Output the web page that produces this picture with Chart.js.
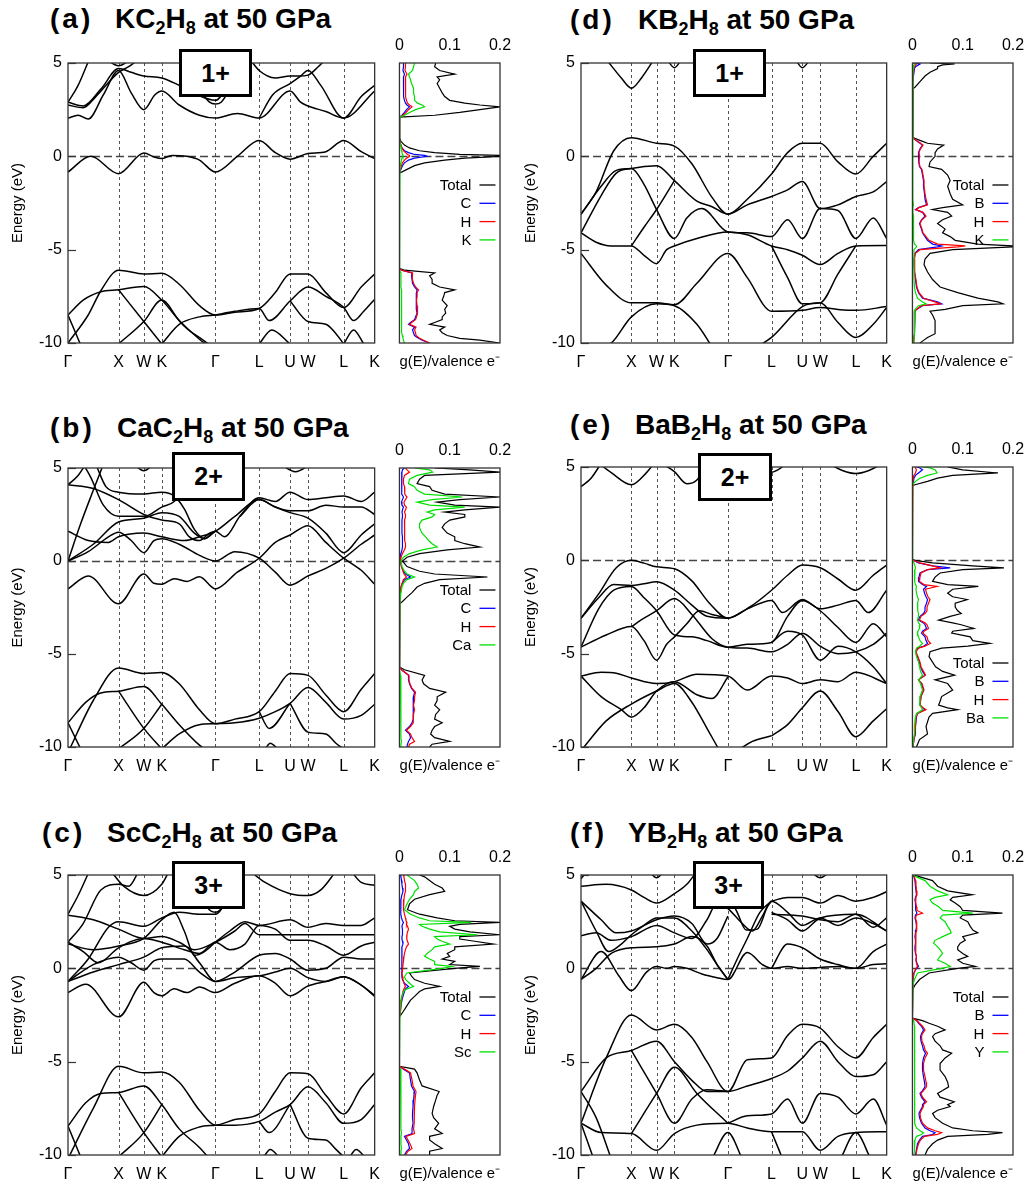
<!DOCTYPE html>
<html>
<head>
<meta charset="utf-8">
<script src="https://cdn.jsdelivr.net/npm/chart.js@4.4.0/dist/chart.umd.min.js"></script>
<style>
body{margin:0;background:#fff;width:1031px;height:1187px;position:relative;overflow:hidden;font-family:"Liberation Sans",Arial,sans-serif}
canvas{position:absolute}
.tag,.ttl{position:absolute;font-weight:bold;font-size:28px;line-height:27px;white-space:nowrap;color:#000}
.tag{letter-spacing:3px}
.ttl sub{font-size:18px;line-height:0;vertical-align:-6px}
.box{position:absolute;border:3px solid #000;background:#fff;box-sizing:border-box;display:flex;align-items:center;justify-content:center;font-weight:bold;font-size:25px;z-index:5}
</style>
</head>
<body>
<div class="tag" style="left:50px;top:5px">(a)</div><div class="ttl" style="left:115px;top:5px">KC<sub>2</sub>H<sub>8</sub> at 50 GPa</div>
<div class="tag" style="left:50px;top:414px">(b)</div><div class="ttl" style="left:117px;top:414px">CaC<sub>2</sub>H<sub>8</sub> at 50 GPa</div>
<div class="tag" style="left:42px;top:819px">(c)</div><div class="ttl" style="left:107px;top:819px">ScC<sub>2</sub>H<sub>8</sub> at 50 GPa</div>
<div class="tag" style="left:570px;top:6px">(d)</div><div class="ttl" style="left:638px;top:6px">KB<sub>2</sub>H<sub>8</sub> at 50 GPa</div>
<div class="tag" style="left:570px;top:411px">(e)</div><div class="ttl" style="left:635px;top:411px">BaB<sub>2</sub>H<sub>8</sub> at 50 GPa</div>
<div class="tag" style="left:570px;top:819px">(f)</div><div class="ttl" style="left:628px;top:819px">YB<sub>2</sub>H<sub>8</sub> at 50 GPa</div>
<div class="box" style="left:179px;top:49px;width:73px;height:48px">1+</div>
<div class="box" style="left:172px;top:452px;width:73px;height:49px">2+</div>
<div class="box" style="left:172px;top:861px;width:73px;height:48px">3+</div>
<div class="box" style="left:693px;top:49px;width:73px;height:48px">1+</div>
<div class="box" style="left:698px;top:453px;width:74px;height:48px">2+</div>
<div class="box" style="left:693px;top:861px;width:71px;height:48px">3+</div>
<script>
// ---------------- AXES ----------------
const kTicks = [0, 1, 1.5, 1.854, 2.915, 3.781, 4.393, 4.747, 5.454, 6.066];
const kLabels = ["Γ", "X", "W", "K", "Γ", "L", "U", "W", "L", "K"];
const eTicks = [-10, -5, 0, 5];
const gTicks = [0, 0.1, 0.2];

// ---------------- BANDS (k, E in eV) ----------------
const aBands = [
  [[0,-0.84],[0.45,0.0],[1,-0.93],[1.5,0.18],[1.72,-0.05],[1.854,-0.12],[2.05,0.05],[2.35,0.0],[2.6,-0.2],[2.915,-0.84],[3.35,0.0],[3.781,0.85],[4.1,0.2],[4.393,-0.15],[4.747,0.15],[5.1,0.25],[5.454,0.85],[5.8,0.25],[6.066,-0.12]],
  [[0,2.05],[0.2,2.2],[0.4,2.0],[0.7,3.3],[1,4.6],[1.25,3.4],[1.5,2.5],[1.72,3.3],[1.854,3.5],[2.2,2.75],[2.6,2.2],[2.915,2.05],[3.35,2.3],[3.781,2.05],[4.393,3.5],[4.6,2.9],[4.747,2.7],[5.1,2.4],[5.454,2.05],[6.066,3.5]],
  [[0,2.9],[0.3,2.7],[0.65,3.6],[1,4.7],[1.25,4.5],[1.5,4.3],[1.854,4.2],[2.2,3.8],[2.55,3.3],[2.915,3.0],[3.2,4.0],[3.45,5.2]],
  [[3.6,5.2],[3.781,4.6],[4.1,4.2],[4.393,4.3],[4.57,4.3],[4.747,4.35],[4.95,4.8],[5.1,5.2]],
  [[3.781,2.05],[4.05,3.3],[4.393,3.9],[4.6,4.3],[4.747,4.6],[5.0,3.8],[5.454,2.05],[5.8,3.2],[6.066,3.8]],
  [[0,2.9],[0.2,3.8],[0.42,5.2]],
  [[0,2.75],[0.3,2.6],[0.55,3.2],[1,4.5],[1.2,4.8],[1.4,5.2]],
  [[2.3,5.2],[2.6,3.6],[2.8,2.9],[2.915,2.8],[3.03,2.9],[3.2,3.6],[3.5,5.2]],
  [[0.75,5.2],[1,4.85],[1.25,5.2]],
  [[0,-10],[0.4,-8.5],[0.65,-7.2],[1,-6.1],[1.5,-6.3],[1.854,-6.27],[2.2,-6.85],[2.6,-8.0],[2.915,-8.5],[3.3,-8.35],[3.781,-8.15],[4.1,-7.3],[4.393,-6.3],[4.747,-6.3],[5.1,-7.3],[5.454,-8.1],[5.8,-7.0],[6.066,-6.3]],
  [[0,-8.5],[0.3,-7.7],[0.65,-7.25],[1,-7.15],[1.5,-6.97],[1.854,-7.7],[2.3,-9.1],[2.7,-9.9],[2.85,-10.2]],
  [[2.915,-8.5],[3.3,-8.3],[3.781,-8.15],[3.98,-8.8],[4.393,-7.75],[4.747,-7.0],[5.1,-7.5],[5.454,-8.1],[5.65,-8.8],[5.85,-8.3],[6.066,-7.65]],
  [[3.781,-10.05],[4.03,-9.3],[4.393,-10.05]],
  [[5.454,-10.05],[5.65,-9.3],[5.85,-10.05]],
  [[4.393,-7.75],[4.747,-8.85],[5.1,-9.0],[5.3,-9.5],[5.454,-10.05]],
  [[1,-7.15],[1.5,-8.85],[1.854,-10.05]],
  [[1,-10.05],[1.5,-8.85],[1.854,-7.7],[2.2,-8.8],[2.6,-9.8],[2.75,-10.1]],
  [[0,-8.5],[0.25,-10.1]],
  [[1.854,-10.05],[2.2,-9.0],[2.6,-8.6],[2.915,-8.5]]
];

const bBands = [
  [[0,-1.5],[0.4,-0.8],[1,-2.3],[1.5,-0.7],[1.7,-1.2],[1.854,-1.25],[2.1,-0.95],[2.35,-1.1],[2.6,-0.85],[2.915,-1.5],[3.35,-0.6],[3.781,0.15],[4.1,1.0],[4.393,1.4],[4.747,1.9],[5.1,1.0],[5.454,0.15],[5.8,-0.5],[6.066,-1.25]],
  [[0,0],[0.4,0.5],[0.8,1.3],[1,1.55],[1.25,1.1],[1.5,0.45],[1.7,1.1],[1.854,1.2],[2.2,0.9],[2.6,0.3],[2.915,0],[3.3,0.5],[3.781,0.15],[4.1,-0.6],[4.393,-1.3],[4.747,-0.8],[5.1,-0.4],[5.454,0.15],[5.8,0.9],[6.066,1.4]],
  [[0,0],[0.5,0.9],[1,2.1],[1.5,2.3],[1.854,2.6],[2.2,2.4],[2.5,1.5],[2.7,1.2],[2.915,1.6],[3.1,1.3],[3.4,2.4],[3.781,3.4],[4.1,3.2],[4.393,3.7],[4.747,3.3],[5.1,3.4],[5.454,3.5],[5.8,3.2],[6.066,3.7]],
  [[0,1.6],[0.4,1.1],[0.8,1.0],[1,1.3],[1.5,1.5],[1.854,1.3],[2.3,1.1],[2.6,1.3],[2.915,1.6],[3.3,2.4],[3.781,3.3],[4.1,2.9],[4.393,2.6],[4.747,2.3],[5.1,1.5],[5.454,0.45],[5.8,1.4],[6.066,2.0]],
  [[0,4.1],[0.5,3.9],[1,3.3],[1.5,2.5],[1.854,2.2],[2.2,2.0],[2.4,1.3],[2.6,1.1],[2.8,1.5],[2.915,1.6]],
  [[0,0],[0.25,2.0],[0.5,3.8],[0.7,5.2]],
  [[0.55,5.2],[0.75,4.0],[1,3.7],[1.5,3.6],[1.854,3.7],[2.1,3.5],[2.3,2.8],[2.5,1.7],[2.7,1.2],[2.915,1.6]],
  [[0,4.1],[0.2,4.6],[0.35,5.2]],
  [[0.3,5.2],[0.45,4.5],[0.7,3.0],[1,2.4],[1.5,2.4],[1.854,2.9],[2.1,3.2],[2.3,4.0],[2.45,5.2]],
  [[3.4,2.4],[3.781,3.3],[4.1,2.9],[4.393,2.7],[4.747,2.7],[5.1,3.0],[5.454,2.9],[5.8,2.9],[6.066,2.5]],
  [[1.3,5.2],[1.5,4.85],[1.7,5.2]],
  [[4.2,5.2],[4.5,4.8],[4.8,5.2]],
  [[0,-10.3],[0.5,-7.5],[1,-5.75],[1.5,-6.05],[1.854,-6.0],[2.2,-6.6],[2.6,-8.0],[2.915,-8.75],[3.3,-8.5],[3.781,-8.1],[4.1,-7.0],[4.393,-6.05],[4.747,-6.15],[5.1,-7.2],[5.454,-8.1],[5.8,-6.9],[6.066,-6.05]],
  [[0,-8.7],[0.35,-7.6],[0.65,-7.1],[1,-7.0],[1.5,-6.75],[1.854,-7.7],[2.2,-8.8],[2.6,-9.9],[2.75,-10.2]],
  [[2.915,-8.75],[3.3,-8.7],[3.781,-8.45],[4.1,-8.1],[4.393,-7.65],[4.747,-6.8],[5.1,-7.6],[5.454,-8.5],[5.8,-8.3],[6.066,-7.7]],
  [[1,-7.0],[1.5,-9.0],[1.854,-10.1]],
  [[1,-10.1],[1.5,-9.0],[1.854,-7.7]],
  [[0,-8.7],[0.25,-10.1]],
  [[3.781,-8.1],[3.98,-9.0],[4.393,-7.65]],
  [[4.393,-7.65],[4.747,-9.2],[5.1,-9.3],[5.3,-9.8],[5.454,-10.1]],
  [[1.854,-10.1],[2.2,-9.3],[2.6,-8.8],[2.915,-8.75]],
  [[3.9,-10.1],[4.0,-9.8],[4.15,-10.1]]
];

const cBands = [
  [[0,-1.3],[0.35,-0.85],[1,-2.6],[1.5,-0.75],[1.7,-1.3],[1.854,-1.47],[2.1,-1.1],[2.35,-1.3],[2.6,-1.0],[2.915,-1.3],[3.3,-0.8],[3.781,-0.4],[4.1,-0.8],[4.393,-1.47],[4.747,-0.95],[5.1,-0.7],[5.454,-0.45],[5.8,-0.9],[6.066,-1.45]],
  [[0,-0.7],[0.5,0.2],[1,0.6],[1.25,0.3],[1.5,-0.1],[1.7,0.4],[1.854,0.5],[2.3,0.5],[2.6,-0.2],[2.915,-0.7],[3.3,-0.2],[3.781,0.7],[4.1,0.8],[4.393,0.5],[4.747,-0.1],[5.1,0.0],[5.454,0.6],[5.8,0.5],[6.066,0.5]],
  [[0,-0.7],[0.5,-0.2],[1,0.2],[1.5,0.6],[1.854,1.1],[2.3,1.2],[2.6,0.3],[2.915,-0.7],[3.3,-0.5],[3.781,-0.4],[4.1,-0.2],[4.393,0.0],[4.747,-0.5],[5.1,-0.7],[5.454,-0.45],[5.8,-0.9],[6.066,-1.5]],
  [[0,1.4],[0.3,0.9],[0.6,0.3],[1,1.1],[1.5,1.6],[1.854,1.4],[2.3,1.0],[2.6,0.8],[2.915,1.4],[3.2,1.0],[3.5,1.3],[3.781,2.3],[4.1,2.1],[4.393,1.5],[4.747,1.5],[5.1,1.2],[5.454,0.7],[5.8,1.2],[6.066,1.4]],
  [[0,2.85],[0.5,2.6],[1,2.1],[1.5,1.6],[1.854,1.7],[2.2,1.4],[2.5,1.0],[2.915,1.4],[3.3,2.0],[3.5,2.4],[3.781,1.8],[4.393,1.8],[5.454,1.8],[6.066,1.8]],
  [[0,1.3],[0.5,1.0],[1,1.2],[1.5,1.6],[1.854,2.6],[2.1,3.0],[2.3,2.0],[2.5,0.7],[2.7,0.9],[2.915,1.4],[3.2,2.0],[3.5,2.5],[3.781,2.3],[4.393,2.6],[4.747,2.2],[5.1,2.4],[5.454,2.3],[5.8,2.3],[6.066,2.7]],
  [[0,1.4],[0.3,2.4],[0.65,4.2],[1,4.5],[1.2,4.4],[1.4,5.2]],
  [[0,2.9],[0.2,3.9],[0.42,5.2]],
  [[0,-0.7],[0.4,0.5],[0.8,2.2],[1,2.5],[1.5,2.25],[1.854,2.7],[2.2,3.0],[2.6,2.9],[2.915,2.9],[3.2,4.0],[3.4,5.2]],
  [[0.85,5.2],[1.1,4.4],[1.5,3.9],[1.854,4.5],[2.0,5.2]],
  [[3.6,5.2],[3.9,4.6],[4.393,4.0],[4.747,3.9],[5.0,4.2],[5.3,5.2]],
  [[5.6,5.2],[5.8,4.6],[6.066,4.45]],
  [[2.5,5.2],[2.75,3.3],[2.915,3.0],[3.1,3.5],[3.3,5.2]],
  [[0,-10.2],[0.5,-7.5],[1,-5.25],[1.5,-5.6],[1.854,-5.55],[2.2,-6.1],[2.6,-7.6],[2.915,-8.4],[3.3,-8.1],[3.781,-7.8],[4.1,-6.6],[4.393,-5.6],[4.747,-5.65],[5.1,-6.8],[5.454,-7.8],[5.8,-6.4],[6.066,-5.6]],
  [[0,-8.45],[0.35,-7.2],[0.65,-6.7],[1,-6.65],[1.5,-6.3],[1.854,-7.3],[2.2,-8.6],[2.6,-9.6],[2.8,-10.2]],
  [[2.915,-8.4],[3.3,-8.4],[3.781,-8.2],[4.1,-7.7],[4.393,-7.3],[4.747,-6.35],[5.1,-7.2],[5.454,-8.3],[5.8,-8.1],[6.066,-7.3]],
  [[1,-6.65],[1.5,-8.8],[1.854,-10.1]],
  [[1,-10.1],[1.5,-8.8],[1.854,-7.3]],
  [[0,-8.45],[0.25,-10.1]],
  [[3.781,-8.2],[3.98,-8.8],[4.393,-7.3]],
  [[4.393,-7.3],[4.747,-9.1],[5.1,-9.2],[5.3,-9.7],[5.454,-10.1]],
  [[1.854,-10.1],[2.2,-9.0],[2.6,-8.5],[2.915,-8.4]],
  [[3.85,-10.2],[4.0,-9.7],[4.2,-10.2]],
  [[5.55,-10.2],[5.7,-9.7],[5.9,-10.2]]
];

const dBands = [
  [[0.5,5.2],[0.8,4.2],[1,3.65],[1.2,4.2],[1.45,5.2]],
  [[1.7,5.2],[1.854,4.75],[2.0,5.2]],
  [[4.25,5.2],[4.393,4.75],[4.55,5.2]],
  [[0,-3.1],[0.3,-1.9],[0.65,0.3],[1,1.0],[1.5,0.7],[1.854,0.55],[2.2,-0.4],[2.6,-2.2],[2.915,-3.1],[3.3,-2.3],[3.781,-0.95],[4.1,0.2],[4.393,0.7],[4.747,0.7],[5.1,-0.3],[5.454,-0.95],[5.8,0.0],[6.066,0.7]],
  [[0,-4.1],[0.4,-2.1],[0.7,-0.9],[1,-0.65],[1.5,-0.5],[1.854,-1.3],[2.3,-2.4],[2.6,-2.7],[2.915,-3.1],[3.3,-2.6],[3.781,-2.15],[4.1,-1.8],[4.393,-1.35],[4.747,-2.8],[5.1,-2.6],[5.454,-2.15],[5.8,-1.9],[6.066,-1.35]],
  [[0,-3.1],[0.4,-1.6],[0.7,-0.75],[1,-0.65],[1.25,-1.5],[1.5,-2.85],[1.854,-4.4],[2.1,-3.3],[2.4,-2.8],[2.915,-4.05],[3.3,-4.1],[3.781,-4.3],[4.1,-3.4],[4.393,-4.4],[4.747,-2.8],[5.1,-2.9],[5.454,-4.4],[5.8,-3.3],[6.066,-4.4]],
  [[0,-4.1],[0.3,-4.6],[0.6,-4.8],[1,-4.8],[1.25,-5.3],[1.5,-5.75],[1.7,-5.0],[1.854,-4.8],[2.3,-4.4],[2.915,-4.05],[3.3,-4.2],[3.781,-4.8],[4.1,-5.0],[4.393,-5.3],[4.747,-5.8],[5.1,-5.2],[5.454,-4.8],[6.066,-4.78]],
  [[1,-4.8],[1.25,-3.8],[1.5,-2.85],[1.854,-1.3]],
  [[0,-5.2],[0.5,-6.9],[1,-7.85],[1.5,-7.85],[1.854,-7.95],[2.3,-6.8],[2.915,-5.2],[3.3,-6.5],[3.781,-8.3],[4.393,-8.25],[4.747,-8.1],[5.1,-8.2],[5.454,-8.25],[6.066,-8.05]],
  [[0,-10.5],[0.6,-10.0],[1,-8.6],[1.5,-7.9],[1.854,-8.0],[2.3,-9.0],[2.6,-10.2]],
  [[3.5,-10.2],[3.781,-9.7],[4.393,-8.05],[4.747,-7.85],[5.1,-8.9],[5.454,-9.7],[5.8,-9.0],[6.066,-8.1]],
  [[3.781,-4.8],[4.1,-6.5],[4.393,-7.9],[4.747,-7.85],[5.1,-6.3],[5.454,-4.8]]
];

const eBands = [
  [[0,3.95],[0.2,4.4],[0.4,5.2]],
  [[0.35,5.2],[0.6,4.7],[1,4.05],[1.3,4.7],[1.45,5.2]],
  [[1.6,5.2],[1.854,4.75],[2.1,4.1],[2.3,4.3],[2.5,5.2]],
  [[3.5,5.2],[3.781,4.72],[4.1,5.2]],
  [[4.9,5.2],[5.2,4.8],[5.454,4.65],[5.7,4.8],[6.0,5.2]],
  [[0,-3.1],[0.35,-1.8],[0.7,-0.4],[1,0.0],[1.25,-0.15],[1.5,-0.35],[1.854,-0.45],[2.2,-1.1],[2.55,-2.3],[2.915,-3.1],[3.35,-2.5],[3.781,-1.6],[4.1,-0.8],[4.393,-0.25],[4.747,-0.4],[5.1,-1.0],[5.454,-1.6],[5.8,-0.8],[6.066,-0.25]],
  [[0,-3.1],[0.35,-2.0],[0.65,-1.3],[1,-1.35],[1.25,-1.25],[1.5,-1.15],[1.854,-1.6],[2.2,-2.4],[2.5,-3.0],[2.915,-3.1],[3.3,-2.6],[3.781,-2.15],[4.0,-2.8],[4.393,-2.1],[4.747,-2.6],[5.1,-2.4],[5.454,-2.15],[5.7,-2.8],[6.066,-1.6]],
  [[0,-4.65],[0.35,-2.6],[0.65,-1.6],[1,-1.4],[1.25,-2.0],[1.5,-2.7],[1.854,-4.0],[2.2,-4.1],[2.5,-4.3],[2.915,-4.65],[3.3,-4.5],[3.781,-4.4],[4.1,-3.0],[4.393,-2.15],[4.747,-2.7],[5.1,-3.6],[5.454,-4.4],[5.8,-3.4],[6.066,-4.1]],
  [[0,-4.65],[0.5,-4.0],[1,-3.55],[1.25,-4.3],[1.5,-5.35],[1.7,-4.5],[1.854,-4.1],[2.1,-3.4],[2.35,-2.7],[2.6,-2.9],[2.915,-3.1]],
  [[1,-3.55],[1.25,-3.1],[1.5,-2.7],[1.854,-2.05],[2.2,-2.9],[2.6,-4.2],[2.915,-4.65],[3.3,-4.7],[3.781,-4.9],[4.1,-4.5],[4.393,-3.9],[4.747,-4.6],[5.1,-5.0],[5.454,-4.9],[5.8,-4.5],[6.066,-3.9]],
  [[3.781,-4.4],[4.1,-3.8],[4.393,-4.0],[4.747,-5.35],[5.1,-4.6],[5.454,-4.9],[5.8,-5.7],[6.066,-6.6]],
  [[0,-6.2],[0.4,-6.0],[0.7,-6.05],[1,-6.3],[1.5,-6.6],[1.854,-6.5],[2.3,-6.1],[2.915,-6.2],[3.3,-6.95],[3.781,-6.2],[4.1,-6.3],[4.393,-6.6],[4.747,-6.4],[5.1,-6.5],[5.454,-6.0],[6.066,-6.6]],
  [[0,-6.2],[0.4,-7.3],[0.8,-8.0],[1,-8.4],[1.25,-7.9],[1.5,-7.0],[1.854,-6.5],[2.3,-7.2],[2.6,-7.4],[2.915,-6.25]],
  [[0,-10.2],[0.5,-8.6],[1,-7.7],[1.5,-7.0],[1.854,-6.6],[2.2,-7.6],[2.5,-9.0],[2.75,-10.2]],
  [[3.781,-9.4],[4.1,-8.8],[4.393,-7.9],[4.747,-7.0],[5.1,-8.1],[5.454,-9.45],[5.8,-8.6],[6.066,-7.95]],
  [[3.1,-10.2],[3.4,-9.7],[3.781,-9.4]]
];

const fBands = [
  [[0,-0.6],[0.4,0.9],[0.75,-0.4],[1,-1.2],[1.3,-0.2],[1.5,0.1],[1.7,0.0],[1.854,0.1],[2.1,0.0],[2.4,-0.3],[2.7,-0.5],[2.915,-0.6],[3.3,0.85],[3.6,0.2],[3.781,0.0],[4.1,0.1],[4.393,0.0],[4.747,0.05],[5.1,0.1],[5.454,0.0],[5.8,0.2],[6.066,0.25]],
  [[0,-0.6],[0.3,0.0],[0.6,0.8],[1,1.1],[1.5,1.15],[1.854,1.3],[2.2,1.7],[2.5,1.2],[2.7,0.2],[2.915,-0.6]],
  [[2.915,-0.6],[3.1,0.5],[3.3,1.6],[3.55,3.0],[3.781,3.6]],
  [[3.781,0.0],[4.1,1.3],[4.393,1.1],[4.747,0.5],[5.1,0.2],[5.454,0.0],[5.8,0.9],[6.066,1.3]],
  [[0,3.6],[0.3,2.0],[0.55,0.9],[0.8,1.3],[1,1.8],[1.25,2.3],[1.5,2.7],[1.854,2.7],[2.2,2.0],[2.5,1.0],[2.7,0.2],[2.915,-0.6]],
  [[0,1.75],[0.3,1.9],[0.6,1.5],[1,1.7],[1.5,2.3],[1.854,1.9],[2.2,1.6],[2.5,2.6],[2.7,3.5],[2.915,3.2],[3.2,2.4],[3.4,2.0],[3.6,2.8],[3.781,3.6],[4.1,3.0],[4.393,2.3],[4.747,2.7],[5.1,2.3],[5.454,2.7],[5.8,2.4],[6.066,2.0]],
  [[0,4.4],[0.5,4.5],[1,4.2],[1.25,3.8],[1.5,3.5],[1.854,4.0],[2.1,4.5],[2.3,5.2]],
  [[0,3.6],[0.4,2.6],[0.7,1.9],[1,2.0],[1.5,2.6],[1.854,2.8],[2.2,2.4],[2.5,1.3],[2.7,1.6],[2.915,2.8]],
  [[3.781,3.6],[4.1,3.8],[4.393,3.8],[4.747,3.5],[5.1,3.9],[5.454,3.6],[5.8,3.8],[6.066,4.1]],
  [[3.781,2.9],[4.393,2.8],[4.747,2.6],[5.1,2.5],[5.454,2.9],[6.066,2.0]],
  [[3.781,3.0],[4.1,2.6],[4.393,2.0],[4.747,2.7],[5.454,2.9],[5.8,2.2],[6.066,2.7]],
  [[1.35,5.2],[1.5,4.85],[1.65,5.2]],
  [[4.55,5.2],[4.747,4.85],[4.95,5.2]],
  [[0,4.8],[0.12,5.2]],
  [[2.7,5.2],[2.915,4.0],[3.1,3.0],[3.28,2.05],[3.5,2.1],[3.7,3.3],[3.781,3.6]],
  [[0,-8.3],[0.5,-4.8],[1,-2.5],[1.5,-3.3],[1.854,-3.0],[2.2,-3.7],[2.5,-5.0],[2.915,-6.6],[3.3,-4.9],[3.781,-4.8],[4.1,-3.6],[4.393,-3.0],[4.747,-3.2],[5.1,-4.2],[5.454,-4.8],[5.8,-3.7],[6.066,-3.0]],
  [[0,-6.6],[0.5,-4.8],[1,-4.4],[1.5,-3.9],[1.854,-5.0],[2.2,-6.0],[2.5,-6.6],[2.915,-6.6],[3.3,-6.3],[3.781,-5.9],[4.1,-5.5],[4.393,-4.8],[4.747,-3.9],[5.1,-5.0],[5.454,-5.8],[5.8,-5.7],[6.066,-5.0]],
  [[0,-8.3],[0.4,-8.8],[1,-8.85],[1.5,-9.75],[1.854,-8.85],[2.3,-8.4],[2.915,-8.3],[3.3,-8.55],[3.781,-8.75],[4.393,-8.75],[4.747,-9.75],[5.1,-9.0],[5.454,-8.8],[6.066,-8.75]],
  [[1,-4.4],[1.5,-6.7],[1.854,-8.3],[2.2,-7.0],[2.5,-6.5],[2.915,-6.6]],
  [[1,-8.85],[1.5,-6.7],[1.854,-5.3],[2.3,-6.7],[2.915,-8.3]],
  [[2.915,-8.3],[3.3,-7.9],[3.781,-7.8],[4.1,-7.0],[4.393,-8.3],[4.747,-6.7],[5.1,-6.9],[5.454,-7.8],[5.8,-7.0],[6.066,-8.4]],
  [[2.6,-10.2],[2.915,-8.8],[3.2,-10.2]],
  [[5.15,-10.2],[5.454,-8.8],[5.75,-10.2]],
  [[0,-8.3],[0.25,-10.2]],
  [[0,-6.6],[0.3,-8.0],[0.6,-10.2]],
  [[3.781,-8.75],[4.0,-10.2]]
];

// ---------------- DOS (states / valence e-, vs energy) ----------------
const aDosE = [5.0,4.8,4.6,4.4,4.25,4.1,3.9,3.65,3.4,3.2,3.0,2.85,2.75,2.65,2.5,2.35,2.2,2.1, 1.0,0.8,0.6,0.45,0.3,0.2,0.1,0.05,0.0,-0.1,-0.2,-0.35,-0.5,-0.7,-0.9, -6.0,-6.1,-6.25,-6.4,-6.6,-6.8,-7.0,-7.15,-7.3,-7.5,-7.7,-8.0,-8.2,-8.4,-8.6,-8.75,-8.9,-9.0,-9.15,-9.3,-9.45,-9.6,-9.75,-9.85,-10.0];
const aDosTot = [0.072,0.07,0.08,0.11,0.075,0.08,0.075,0.08,0.085,0.09,0.1,0.13,0.16,0.2,0.16,0.12,0.07,0, 0,0.003,0.01,0.02,0.04,0.07,0.12,0.2,0.2,0.13,0.09,0.05,0.03,0.015,0, 0,0.01,0.07,0.06,0.065,0.065,0.08,0.11,0.09,0.088,0.085,0.095,0.09,0.092,0.085,0.085,0.07,0.06,0.09,0.08,0.085,0.095,0.12,0.16,0.2];
const aDosC = [0.008,0.008,0.007,0.01,0.008,0.008,0.008,0.008,0.008,0.009,0.01,0.012,0.015,0.02,0.014,0.01,0.005,0, 0,0.001,0.003,0.005,0.01,0.018,0.03,0.05,0.055,0.03,0.018,0.01,0.006,0.003,0, 0,0.004,0.025,0.024,0.025,0.026,0.03,0.035,0.034,0.034,0.033,0.033,0.034,0.035,0.032,0.03,0.022,0.018,0.03,0.026,0.028,0.03,0.038,0.045,0.06];
const aDosH = [0.012,0.012,0.011,0.015,0.012,0.012,0.012,0.012,0.012,0.013,0.014,0.016,0.02,0.025,0.018,0.013,0.007,0, 0,0.001,0.003,0.005,0.008,0.012,0.016,0.02,0.02,0.014,0.01,0.006,0.004,0.002,0, 0,0.004,0.026,0.025,0.026,0.028,0.032,0.038,0.035,0.035,0.034,0.035,0.036,0.036,0.034,0.032,0.024,0.02,0.033,0.03,0.032,0.033,0.04,0.048,0.06];
const aDosK = [0.03,0.028,0.026,0.018,0.02,0.022,0.024,0.028,0.028,0.03,0.03,0.036,0.045,0.05,0.032,0.02,0.01,0, 0,0.001,0.002,0.003,0.004,0.005,0.006,0.007,0.007,0.005,0.004,0.003,0.002,0.001,0, 0,0.001,0.003,0.003,0.003,0.003,0.003,0.004,0.004,0.004,0.004,0.004,0.004,0.004,0.004,0.004,0.004,0.004,0.005,0.005,0.005,0.006,0.007,0.008,0.01];

const bDosE = [5.0,4.9,4.78,4.6,4.4,4.16,4.0,3.8,3.6,3.44,3.3,3.17,3.0,2.9,2.75,2.63,2.5,2.37,2.2,2.0,1.8,1.65,1.5,1.3,1.1,0.93,0.75,0.6,0.4,0.2,0.0,-0.3,-0.55,-0.7,-0.86,-1.0,-1.2,-1.4,-1.7,-1.94,-2.2,-2.3, -5.7,-5.85,-6.15,-6.4,-6.6,-6.85,-7.05,-7.3,-7.5,-7.75,-8.0,-8.25,-8.5,-8.7,-8.9,-9.1,-9.3,-9.5,-9.7,-9.85,-10.0];
const bDosTot = [0.07,0.14,0.2,0.05,0.04,0.035,0.06,0.065,0.09,0.2, 0.12,0.075,0.11,0.2,0.13,0.09,0.13,0.13,0.1,0.09, 0.085,0.09,0.095,0.11,0.11,0.13,0.16,0.095,0.04,0.015, 0.006,0.015,0.04,0.07,0.175,0.08,0.05,0.035,0.025,0.015, 0.005,0, 0,0.01,0.05,0.045,0.048,0.06,0.092,0.075,0.075,0.07, 0.08,0.072,0.07,0.085,0.07,0.065,0.062,0.07,0.1,0.065, 0.06];
const bDosC = [0.01,0.006,0.005,0.004,0.004,0.004,0.005,0.005,0.005,0.008, 0.006,0.004,0.005,0.008,0.006,0.005,0.006,0.006,0.005,0.005, 0.005,0.005,0.005,0.006,0.006,0.006,0.006,0.005,0.003,0.002, 0.002,0.004,0.008,0.012,0.022,0.01,0.006,0.003,0.002,0.001, 0.001,0, 0,0.004,0.018,0.018,0.02,0.024,0.03,0.028,0.028,0.027, 0.028,0.027,0.027,0.025,0.02,0.012,0.02,0.022,0.018,0.016, 0.015];
const bDosH = [0.012,0.015,0.02,0.01,0.008,0.008,0.01,0.01,0.011,0.015, 0.012,0.009,0.01,0.014,0.012,0.01,0.012,0.012,0.01,0.01, 0.01,0.01,0.01,0.011,0.011,0.012,0.012,0.01,0.006,0.003, 0.002,0.004,0.007,0.009,0.014,0.008,0.005,0.003,0.002,0.001, 0.001,0, 0,0.004,0.019,0.019,0.021,0.025,0.032,0.03,0.03,0.028, 0.03,0.028,0.028,0.027,0.022,0.014,0.022,0.025,0.03,0.02, 0.018];
const bDosCa = [0.03,0.06,0.066,0.035,0.02,0.018,0.03,0.035,0.05,0.125, 0.065,0.035,0.06,0.13,0.07,0.055,0.07,0.065,0.045,0.04, 0.04,0.042,0.045,0.052,0.058,0.065,0.075,0.045,0.02,0.008, 0.003,0.005,0.01,0.015,0.03,0.015,0.008,0.005,0.003,0.002, 0.001,0, 0,0.001,0.002,0.002,0.002,0.003,0.003,0.003,0.003,0.003, 0.003,0.003,0.003,0.003,0.003,0.003,0.003,0.003,0.004,0.003, 0.003];

const cDosE = [5.0,4.9,4.7,4.5,4.3,4.12,3.95,3.7,3.45,3.14,2.9,2.7,2.55,2.46,2.35,2.25,2.1,1.95,1.8,1.7,1.57,1.45,1.3,1.15,1.0,0.8,0.64,0.5,0.37,0.2,0.1,0.0,-0.25,-0.45,-0.6,-0.8,-0.97,-1.1,-1.24,-1.5,-1.7,-2.0,-2.3,-2.6, -5.25,-5.4,-5.6,-5.98,-6.3,-6.6,-6.8,-7.06,-7.4,-7.77,-8.0,-8.3,-8.6,-8.85,-9.0,-9.2,-9.4,-9.65,-9.8,-10.0];
const cDosTot = [0.04,0.05,0.06,0.07,0.085,0.09,0.06,0.03,0.02,0.016, 0.04,0.075,0.11,0.2,0.12,0.1,0.11,0.14,0.2,0.12, 0.12,0.15,0.187,0.11,0.11,0.095,0.1,0.085,0.11,0.1, 0.16,0.11,0.02,0.025,0.03,0.05,0.08,0.05,0.04,0.03, 0.022,0.015,0.008,0, 0,0.03,0.035,0.04,0.045,0.079,0.075,0.072,0.068,0.065, 0.068,0.078,0.07,0.085,0.06,0.06,0.07,0.085,0.06,0.06];
const cDosC = [0.002,0.003,0.004,0.005,0.006,0.007,0.005,0.003,0.003,0.002, 0.003,0.004,0.006,0.008,0.006,0.005,0.006,0.006,0.006,0.005, 0.005,0.006,0.007,0.005,0.005,0.005,0.005,0.005,0.005,0.005, 0.005,0.004,0.004,0.005,0.006,0.01,0.018,0.012,0.01,0.007, 0.005,0.003,0.002,0, 0,0.008,0.02,0.022,0.024,0.03,0.029,0.028,0.027,0.026, 0.026,0.027,0.025,0.025,0.01,0.014,0.018,0.02,0.014,0.01];
const cDosH = [0.008,0.009,0.01,0.012,0.012,0.012,0.01,0.009,0.008,0.008, 0.01,0.012,0.013,0.015,0.014,0.016,0.018,0.016,0.015,0.014, 0.015,0.016,0.018,0.014,0.012,0.01,0.009,0.008,0.008,0.007, 0.007,0.006,0.005,0.006,0.007,0.009,0.012,0.009,0.007,0.005, 0.004,0.003,0.002,0, 0,0.01,0.022,0.025,0.027,0.033,0.032,0.031,0.03,0.029, 0.029,0.03,0.028,0.03,0.013,0.017,0.021,0.025,0.017,0.012];
const cDosSc = [0.015,0.02,0.03,0.035,0.038,0.03,0.028,0.02,0.015,0.01, 0.022,0.04,0.06,0.143,0.04,0.045,0.06,0.08,0.155,0.07, 0.075,0.085,0.1,0.07,0.065,0.055,0.05,0.06,0.07,0.07, 0.104,0.085,0.015,0.01,0.012,0.02,0.028,0.015,0.008,0.005, 0.003,0.002,0.001,0, 0,0.002,0.002,0.003,0.003,0.003,0.003,0.003,0.003,0.003, 0.003,0.003,0.003,0.004,0.003,0.003,0.003,0.004,0.003,0.003];

const dDosE = [5.0,4.95,4.9,4.8,4.7,4.5,4.3,4.0,3.7,3.6, 1.0,0.8,0.7,0.6,0.4,0.2,0.0,-0.3,-0.55,-0.7, -1.0,-1.3,-1.6,-2.0,-2.3,-2.6,-2.75,-2.85,-3.0,-3.2, -3.4,-3.6,-3.9,-4.1,-4.3,-4.5,-4.7,-4.8,-4.85,-5.0, -5.2,-5.5,-5.8,-6.2,-6.6,-7.0,-7.3,-7.6,-7.8,-7.9, -8.0,-8.2,-8.3,-8.5,-8.8,-9.2,-9.5,-9.7,-9.9,-10.0];
const dDosTot = [0.035,0.084,0.06,0.05,0.05,0.035,0.025,0.015,0.005,0, 0.001,0.02,0.03,0.062,0.05,0.045,0.045,0.035,0.033,0.058, 0.07,0.075,0.07,0.075,0.08,0.1,0.06,0.04,0.07,0.078, 0.06,0.05,0.065,0.06,0.075,0.085,0.13,0.2,0.2,0.08, 0.035,0.025,0.023,0.03,0.04,0.055,0.09,0.13,0.17,0.18, 0.1,0.065,0.035,0.04,0.045,0.045,0.045,0.03,0.02,0.015];
const dDosB = [0.005,0.015,0.012,0.006,0.004,0.003,0.002,0.001,0,0, 0,0.01,0.015,0.02,0.015,0.012,0.013,0.012,0.014,0.018, 0.02,0.022,0.022,0.024,0.025,0.028,0.012,0.006,0.02,0.025, 0.018,0.014,0.018,0.02,0.025,0.03,0.04,0.058,0.05,0.012, 0.005,0.003,0.003,0.004,0.006,0.008,0.012,0.02,0.05,0.058, 0.02,0.008,0.005,0.004,0.004,0.004,0.004,0.003,0.002,0.002];
const dDosH = [0.003,0.008,0.006,0.004,0.003,0.002,0.001,0.001,0,0, 0,0.011,0.016,0.021,0.016,0.013,0.014,0.013,0.015,0.019, 0.021,0.023,0.023,0.025,0.027,0.03,0.013,0.007,0.021,0.027, 0.019,0.015,0.019,0.021,0.027,0.033,0.05,0.105,0.09,0.015, 0.006,0.004,0.004,0.005,0.007,0.009,0.013,0.022,0.045,0.055, 0.018,0.008,0.005,0.004,0.004,0.004,0.004,0.003,0.002,0.002];
const dDosK = [0.002,0.004,0.003,0.002,0.002,0.001,0.001,0.001,0,0, 0,0.001,0.001,0.001,0.001,0.001,0.001,0.001,0.001,0.001, 0.001,0.001,0.001,0.001,0.001,0.002,0.001,0.001,0.001,0.002, 0.002,0.002,0.002,0.002,0.002,0.003,0.004,0.008,0.008,0.003, 0.003,0.003,0.003,0.003,0.003,0.004,0.006,0.01,0.02,0.027, 0.012,0.005,0.004,0.004,0.004,0.004,0.004,0.003,0.003,0.003];

const eDosE = [5.0,4.95,4.85,4.68,4.55,4.4,4.23,4.05,4.0, 0.05,0.0,-0.14,-0.3,-0.4,-0.5,-0.68,-0.9,-1.13,-1.3, -1.4,-1.55,-1.76,-1.95,-2.1,-2.3,-2.5,-2.7,-2.85,-3.0, -3.2,-3.35,-3.45,-3.65,-3.8,-3.9,-4.1,-4.3,-4.45,-4.6, -4.7,-4.9,-5.16,-5.45,-5.7,-5.95,-6.15,-6.4,-6.6,-6.95, -7.3,-7.55,-7.75,-7.9,-8.0,-8.2,-8.4,-8.9,-9.3,-9.6, -10.0];
const eDosTot = [0.07,0.08,0.1,0.17,0.08,0.05,0.03,0.005,0, 0,0.005,0.04,0.12,0.182,0.1,0.055,0.045,0.04,0.07, 0.131,0.08,0.07,0.08,0.109,0.085,0.085,0.09,0.097,0.075, 0.052,0.08,0.097,0.122,0.08,0.078,0.115,0.12,0.154,0.11, 0.058,0.035,0.033,0.04,0.046,0.06,0.084,0.045,0.07,0.08, 0.058,0.055,0.052,0.07,0.09,0.04,0.033,0.027,0.03,0.014, 0.008];
const eDosB = [0.008,0.015,0.02,0.012,0.006,0.003,0.002,0,0, 0,0.002,0.012,0.04,0.075,0.03,0.015,0.013,0.012,0.02, 0.028,0.022,0.024,0.027,0.03,0.028,0.025,0.025,0.022,0.015, 0.012,0.022,0.025,0.028,0.02,0.018,0.025,0.027,0.03,0.022, 0.01,0.006,0.01,0.014,0.016,0.02,0.025,0.012,0.018,0.022, 0.017,0.016,0.015,0.02,0.025,0.01,0.008,0.006,0.006,0.003, 0.001];
const eDosH = [0.005,0.006,0.008,0.006,0.003,0.002,0.001,0,0, 0,0.002,0.014,0.04,0.055,0.03,0.017,0.015,0.014,0.023, 0.049,0.026,0.028,0.031,0.035,0.032,0.029,0.029,0.025,0.017, 0.014,0.025,0.029,0.032,0.023,0.021,0.029,0.031,0.036,0.025, 0.012,0.007,0.011,0.015,0.017,0.022,0.026,0.012,0.019,0.023, 0.017,0.016,0.015,0.021,0.027,0.01,0.007,0.006,0.005,0.003, 0.001];
const eDosBa = [0.02,0.035,0.045,0.049,0.03,0.015,0.006,0,0, 0,0.001,0.003,0.005,0.006,0.005,0.004,0.004,0.005,0.006, 0.008,0.007,0.008,0.01,0.012,0.01,0.01,0.011,0.012,0.012, 0.01,0.012,0.015,0.014,0.011,0.01,0.012,0.015,0.02,0.014, 0.008,0.006,0.008,0.012,0.014,0.016,0.02,0.012,0.016,0.02, 0.015,0.014,0.015,0.018,0.02,0.008,0.006,0.004,0.004,0.002, 0.001];

const fDosE = [5.0,4.9,4.7,4.4,4.15,3.94,3.8,3.67,3.5,3.3, 3.1,2.96,2.85,2.7,2.5,2.25,2.05,1.9,1.7,1.5, 1.35,1.15,1.0,0.8,0.64,0.45,0.27,0.1,0.0,-0.25, -0.6,-0.9,-1.15, -2.67,-2.8,-2.94,-3.1,-3.3,-3.5,-3.65,-3.9,-4.15,-4.37, -4.55,-4.8,-5.1,-5.45,-5.8,-6.1,-6.35,-6.55,-6.7,-6.9, -7.15,-7.3,-7.4,-7.6,-7.77,-8.0,-8.3,-8.55,-8.7,-8.8, -8.9,-9.0,-9.2,-9.4,-9.7,-10.0];
const fDosTot = [0.003,0.015,0.04,0.05,0.07,0.119,0.08,0.075,0.085,0.095, 0.1,0.179,0.1,0.095,0.11,0.115,0.12,0.13,0.1,0.105, 0.095,0.09,0.09,0.1,0.11,0.09,0.1,0.125,0.09,0.033, 0.014,0.005,0, 0,0.02,0.033,0.05,0.065,0.045,0.04,0.045,0.055,0.06, 0.078,0.065,0.055,0.055,0.065,0.07,0.072,0.06,0.05,0.055, 0.083,0.07,0.075,0.05,0.04,0.045,0.06,0.08,0.12,0.179, 0.15,0.07,0.05,0.04,0.03,0.025];
const fDosB = [0.001,0.003,0.005,0.006,0.007,0.008,0.006,0.005,0.006,0.006, 0.007,0.009,0.006,0.005,0.007,0.008,0.007,0.006,0.005,0.006, 0.006,0.005,0.005,0.006,0.008,0.007,0.009,0.012,0.008,0.003, 0.001,0,0, 0,0.008,0.012,0.018,0.022,0.018,0.016,0.017,0.02,0.022, 0.026,0.022,0.02,0.02,0.022,0.024,0.025,0.02,0.015,0.018, 0.025,0.02,0.02,0.016,0.013,0.014,0.018,0.025,0.035,0.045, 0.04,0.02,0.014,0.01,0.008,0.006];
const fDosH = [0.001,0.004,0.006,0.007,0.008,0.009,0.007,0.006,0.007,0.008, 0.009,0.02,0.008,0.006,0.008,0.009,0.008,0.007,0.006,0.007, 0.007,0.006,0.006,0.007,0.008,0.007,0.008,0.01,0.007,0.003, 0.001,0,0, 0,0.009,0.014,0.02,0.025,0.02,0.018,0.019,0.023,0.025, 0.03,0.025,0.022,0.022,0.025,0.027,0.028,0.022,0.017,0.02, 0.028,0.022,0.022,0.018,0.015,0.016,0.02,0.03,0.045,0.058, 0.05,0.024,0.016,0.012,0.009,0.007];
const fDosY = [0.001,0.008,0.025,0.035,0.05,0.07,0.045,0.035,0.04,0.052, 0.06,0.12,0.06,0.055,0.065,0.07,0.075,0.077,0.06,0.045, 0.042,0.05,0.055,0.06,0.055,0.05,0.065,0.075,0.058,0.01, 0.004,0.001,0, 0,0.002,0.003,0.004,0.004,0.004,0.004,0.004,0.004,0.004, 0.005,0.004,0.004,0.004,0.004,0.005,0.005,0.005,0.004,0.004, 0.005,0.005,0.005,0.004,0.004,0.004,0.005,0.008,0.015,0.022, 0.018,0.008,0.005,0.004,0.004,0.003];

// ---------------- PANELS ----------------
const panels = [
  {bands: aBands, box: [68, 63, 380, 343], dosX: [395, 500], legTop: 122, dosE: aDosE, dos: [aDosTot, aDosC, aDosH, aDosK], names: ["Total", "C", "H", "K"]},
  {bands: bBands, box: [68, 468, 380, 747], dosX: [395, 500], legTop: 122, dosE: bDosE, dos: [bDosTot, bDosC, bDosH, bDosCa], names: ["Total", "C", "H", "Ca"]},
  {bands: cBands, box: [68, 875, 380, 1155], dosX: [395, 500], legTop: 122, dosE: cDosE, dos: [cDosTot, cDosC, cDosH, cDosSc], names: ["Total", "C", "H", "Sc"]},
  {bands: dBands, box: [581, 63, 892, 343], dosX: [908, 1013], legTop: 122, dosE: dDosE, dos: [dDosTot, dDosB, dDosH, dDosK], names: ["Total", "B", "H", "K"]},
  {bands: eBands, box: [581, 467, 892, 747], dosX: [908, 1013], legTop: 196, dosE: eDosE, dos: [eDosTot, eDosB, eDosH, eDosBa], names: ["Total", "B", "H", "Ba"]},
  {bands: fBands, box: [581, 875, 892, 1155], dosX: [908, 1013], legTop: 122, dosE: fDosE, dos: [fDosTot, fDosB, fDosH, fDosY], names: ["Total", "B", "H", "Y"]}
];

const dosColors = ["#000000", "#0000ff", "#ff0000", "#00e000"];

Chart.defaults.font.family = '"Liberation Sans", Arial, sans-serif';
Chart.defaults.color = "#000";

function addCanvas(left, top, w, h) {
    const cv = document.createElement("canvas");
    cv.width = w; cv.height = h;
    cv.style.left = left + "px"; cv.style.top = top + "px";
    cv.style.width = w + "px"; cv.style.height = h + "px";
    document.body.appendChild(cv);
    return cv;
}

function drawFrame(c) {
    const {ctx, chartArea: a} = c;
    ctx.save();
    ctx.strokeStyle = "#333";
    ctx.lineWidth = 1.3;
    ctx.setLineDash([]);
    ctx.strokeRect(a.left, a.top, a.right - a.left, a.bottom - a.top);
    ctx.restore();
}

function fermiLine(c) {
    const {ctx, chartArea: a, scales: {y}} = c;
    const py = Math.round(y.getPixelForValue(0)) + 0.5;
    ctx.save();
    ctx.strokeStyle = "#444";
    ctx.lineWidth = 1.3;
    ctx.setLineDash([8, 4]);
    ctx.beginPath(); ctx.moveTo(a.left, py); ctx.lineTo(a.right, py); ctx.stroke();
    ctx.restore();
}

const bandDeco = {
    id: "bandDeco",
    beforeDatasetsDraw(c) {
        const {ctx, chartArea: a, scales: {x}} = c;
        ctx.save();
        ctx.strokeStyle = "#555";
        ctx.lineWidth = 1;
        ctx.setLineDash([3, 3]);
        kTicks.slice(1, -1).forEach(k => {
            const px = Math.round(x.getPixelForValue(k)) + 0.5;
            ctx.beginPath(); ctx.moveTo(px, a.top); ctx.lineTo(px, a.bottom); ctx.stroke();
        });
        ctx.restore();
        fermiLine(c);
    },
    afterDatasetsDraw(c) {
        const {ctx, chartArea: a, scales: {y}} = c;
        drawFrame(c);
        ctx.save();
        ctx.strokeStyle = "#333";
        ctx.lineWidth = 1.2;
        eTicks.forEach(v => {
            const py = Math.round(y.getPixelForValue(v)) + 0.5;
            ctx.beginPath(); ctx.moveTo(a.left, py); ctx.lineTo(a.left + 8, py); ctx.stroke();
        });
        ctx.restore();
    }
};

const dosDeco = {
    id: "dosDeco",
    beforeDatasetsDraw(c) { fermiLine(c); },
    afterDatasetsDraw(c) {
        drawFrame(c);
        const {ctx, chartArea: a} = c;
        const p = c.options.plugins.dosDeco;
        ctx.save();
        ctx.font = '15px "Liberation Sans", Arial, sans-serif';
        ctx.textAlign = "right";
        ctx.textBaseline = "middle";
        p.names.forEach((n, i) => {
            const yy = a.top + p.legTop + i * 18.3;
            ctx.fillStyle = "#000";
            ctx.fillText(n, a.left + 72, yy + 1);
            ctx.strokeStyle = dosColors[i];
            ctx.lineWidth = 1.3;
            ctx.beginPath(); ctx.moveTo(a.left + 80, yy); ctx.lineTo(a.left + 96, yy); ctx.stroke();
        });
        ctx.restore();
    }
};

function makeBand(p) {
    const [L, T, R, B] = p.box;
    const axW = 68, axH = 34, padT = 22, padR = 10;
    const cv = addCanvas(L - axW, T - padT, R - L + axW + padR, B - T + padT + axH);
    new Chart(cv, {
        type: "line",
        data: {
            datasets: p.bands.map(b => ({
                data: b.map(([k, e]) => ({x: k, y: e})),
                borderColor: "#000",
                borderWidth: 1.5,
                pointRadius: 0,
                fill: false,
                cubicInterpolationMode: "monotone"
            }))
        },
        options: {
            responsive: false,
            animation: false,
            devicePixelRatio: 1,
            layout: {padding: {top: padT, right: padR, left: 0, bottom: 0}},
            plugins: {legend: {display: false}, tooltip: {enabled: false}},
            scales: {
                x: {
                    type: "linear", min: 0, max: 6.066,
                    afterFit(s) { s.height = axH; },
                    afterBuildTicks(s) { s.ticks = kTicks.map(v => ({value: v})); },
                    ticks: {autoSkip: false, maxRotation: 0, padding: 10, font: {size: 16}, callback: (v, i) => kLabels[i]},
                    grid: {display: false, drawTicks: false},
                    border: {display: false}
                },
                y: {
                    type: "linear", min: -10, max: 5,
                    afterFit(s) { s.width = axW; },
                    afterBuildTicks(s) { s.ticks = eTicks.map(v => ({value: v})); },
                    ticks: {padding: 6, font: {size: 16}},
                    grid: {display: false, drawTicks: false},
                    border: {display: false},
                    title: {display: true, text: "Energy (eV)", font: {size: 15}, padding: {top: 9, bottom: 0}}
                }
            }
        },
        plugins: [bandDeco]
    });
}

function makeDos(p) {
    const [L, R] = p.dosX;
    const T = p.box[1], B = p.box[3];
    const padL = 8, padR = 22, axTop = 40, axBot = 34;
    const cv = addCanvas(L - padL, T - axTop, R - L + padL + padR, B - T + axTop + axBot);
    const order = [4, 3, 2, 1];
    new Chart(cv, {
        type: "line",
        data: {
            datasets: p.dos.map((vals, i) => ({
                label: p.names[i],
                data: p.dosE.map((e, j) => ({x: vals[j], y: e})),
                borderColor: dosColors[i],
                borderWidth: 1.2,
                pointRadius: 0,
                fill: false,
                tension: 0,
                order: order[i]
            }))
        },
        options: {
            responsive: false,
            animation: false,
            devicePixelRatio: 1,
            layout: {padding: {top: 0, right: padR, left: padL, bottom: 0}},
            plugins: {legend: {display: false}, tooltip: {enabled: false}, dosDeco: {names: p.names, legTop: p.legTop}},
            scales: {
                x: {
                    type: "linear", position: "top", min: 0, max: 0.2,
                    afterFit(s) { s.height = axTop; },
                    afterBuildTicks(s) { s.ticks = gTicks.map(v => ({value: v})); },
                    ticks: {autoSkip: false, maxRotation: 0, padding: 8, font: {size: 16}, callback: v => (v === 0 ? "0" : String(v))},
                    grid: {display: false, drawTicks: false},
                    border: {display: false}
                },
                x2: {
                    type: "linear", position: "bottom", min: 0, max: 0.2,
                    afterFit(s) { s.height = axBot; },
                    ticks: {display: false},
                    grid: {display: false, drawTicks: false},
                    border: {display: false},
                    title: {display: true, text: "g(E)/valence e\u207B", font: {size: 15}, padding: {top: 0, bottom: 6}}
                },
                y: {type: "linear", display: false, min: -10, max: 5}
            }
        },
        plugins: [dosDeco]
    });
}

panels.forEach(p => { makeBand(p); makeDos(p); });
</script>
</body>
</html>
